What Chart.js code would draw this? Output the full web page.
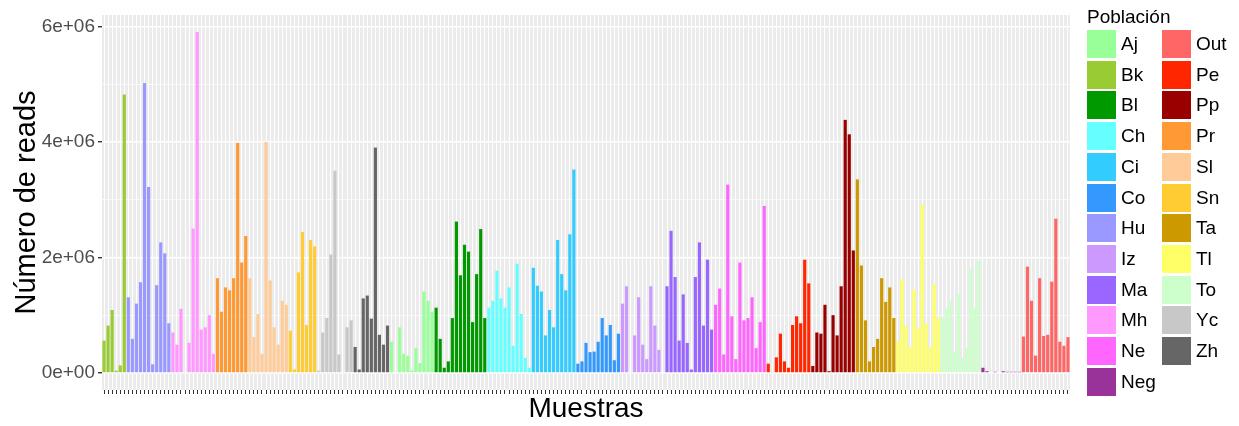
<!DOCTYPE html>
<html>
<head>
<meta charset="utf-8">
<script src="https://cdn.jsdelivr.net/npm/chart.js@4.4.1/dist/chart.umd.min.js"></script>
<style>
    html, body { margin: 0; padding: 0; background: #fff; }
    #wrap { position: relative; width: 1239px; height: 426px; font-family: "Liberation Sans", Arial, sans-serif; }
    #chart { position: absolute; left: 0; top: 0; }
    .legend-title { position: absolute; left: 1087px; top: 6px; font-size: 19px; color: #000; }
    .key { position: absolute; width: 29px; height: 28px; }
    .lab { position: absolute; font-size: 19px; line-height: 28px; color: #000; }
</style>
</head>
<body>
<div id="wrap">
    <canvas id="chart" width="1239" height="426"></canvas>
    <div id="legend"></div>
</div>
<script>
// reads per sample, in millions, grouped by population (order as on the x axis)
const Bk = [0.56, 0.82, 1.09, 0.04, 0.13, 4.82];
const Hu = [1.31, 0.59, 1.20, 1.57, 5.02, 3.22, 0.15, 1.52, 2.26, 2.07, 0.86];
const Mh = [0.70, 0.49, 1.11, 0.01, 0.52, 2.50, 5.90, 0.75, 0.79, 1.00, 0.33];
const Pr = [1.64, 1.06, 1.48, 1.43, 1.64, 3.98, 1.91, 2.37];
const Sl = [1.64, 0.62, 1.02, 0.33, 4.00, 1.60, 0.79, 0.49, 1.25, 1.18];
const Sn = [0.73, 0.06, 1.74, 2.44, 0.83, 2.30, 2.19];
const Yc = [0.04, 0.70, 0.95, 2.05, 3.50, 0.32, 0.01, 0.79, 0.91];
const Zh = [0.45, 0.06, 1.29, 1.34, 0.94, 3.90, 0.66, 0.49, 0.82];
const Aj = [0.54, 0.01, 0.79, 0.33, 0.30, 0.04, 0.43, 0.17, 1.41, 1.25, 1.06];
const Bl = [1.13, 0.59, 0.09, 0.20, 0.95, 2.62, 1.69, 2.22, 2.10, 0.88, 1.71, 2.49, 0.95];
const Ch = [1.13, 1.25, 1.77, 1.29, 1.13, 1.48, 0.47, 1.89, 1.02, 0.26, 0.09];
const Ci = [1.82, 1.51, 1.41, 0.65, 1.09, 0.79, 2.30, 1.71, 1.43, 2.40, 3.52];
const Co = [0.16, 0.20, 0.52, 0.36, 0.37, 0.54, 0.95, 0.65, 0.83, 0.22, 0.68];
const Iz = [1.20, 1.50, 0.01, 0.65, 1.31, 0.49, 0.24, 1.50, 0.82, 0.40];
const Ma = [0, 1.50, 2.46, 1.66, 0.56, 1.36, 0.52, 0.06, 1.66, 2.26, 0.82, 1.96, 0.75];
const Ne = [1.18, 1.46, 0.32, 3.26, 0.98, 0.24, 1.91, 0.91, 0.95, 1.31, 0.43, 0.88, 2.89];
const Pe = [0.16, 0.01, 0.27, 0.68, 0.20, 0.09, 0.83, 0.98, 0.86, 1.96, 1.55];
const Pp = [0.12, 0.70, 0.68, 1.18, 0.03, 1.00, 0.65, 1.50, 4.38, 4.13, 2.12];
const Ta = [3.35, 1.86, 0.91, 0.20, 0.45, 0.59, 1.64, 1.23, 1.48, 0.95];
const Tl = [0.55, 1.62, 0.81, 0.45, 1.44, 0.78, 2.91, 0.85, 0.45, 1.54, 0.95];
const To = [0.96, 1.12, 1.25, 0.37, 1.36, 0.26, 0.43, 1.80, 1.13, 1.94];
const Neg = [0.09, 0.03, 0, 0.02, 0, 0.03, 0.02, 0.02, 0.02, 0.02];
const Out = [0.63, 1.84, 1.25, 0.30, 1.64, 0.64, 0.66, 1.58, 2.67, 0.54, 0.47, 0.62];

const axisOrder = ['Bk', 'Hu', 'Mh', 'Pr', 'Sl', 'Sn', 'Yc', 'Zh', 'Aj', 'Bl', 'Ch', 'Ci', 'Co',
    'Iz', 'Ma', 'Ne', 'Pe', 'Pp', 'Ta', 'Tl', 'To', 'Neg', 'Out'];
const legendCol1 = ['Aj', 'Bk', 'Bl', 'Ch', 'Ci', 'Co', 'Hu', 'Iz', 'Ma', 'Mh', 'Ne', 'Neg'];
const legendCol2 = ['Out', 'Pe', 'Pp', 'Pr', 'Sl', 'Sn', 'Ta', 'Tl', 'To', 'Yc', 'Zh'];
const yTicks = [0, 1e6, 2e6, 3e6, 4e6, 5e6, 6e6];

const popValues = { Bk, Hu, Mh, Pr, Sl, Sn, Yc, Zh, Aj, Bl, Ch, Ci, Co, Iz, Ma, Ne, Pe, Pp, Ta, Tl, To, Neg, Out };
const popColors = {
    Aj: '#99FF99', Bk: '#99CC33', Bl: '#009900', Ch: '#66FFFF', Ci: '#33CCFF', Co: '#3399FF',
    Hu: '#9999FF', Iz: '#CC99FF', Ma: '#9966FF', Mh: '#FF99FF', Ne: '#FF66FF', Neg: '#993399',
    Out: '#FF6666', Pe: '#FF2600', Pp: '#990000', Pr: '#FF9933', Sl: '#FFCC99', Sn: '#FFCC33',
    Ta: '#CC9900', Tl: '#FFFF66', To: '#CCFFCC', Yc: '#C8C8C8', Zh: '#666666'
};

const labels = [];
const values = [];
const colors = [];
axisOrder.forEach(pop => {
    popValues[pop].forEach((v, i) => {
        labels.push(pop + (i + 1));
        values.push(v * 1e6);
        colors.push(popColors[pop]);
    });
});

const FONT = '"Liberation Sans", Arial, sans-serif';

const sciLabel = v => {
    if (v === 0) return '0e+00';
    return (v / 1e6) + 'e+06';
};

const panelBg = {
    id: 'panelBg',
    beforeDraw(chart) {
        const { ctx, chartArea: a } = chart;
        ctx.save();
        ctx.fillStyle = '#EBEBEB';
        ctx.fillRect(a.left, a.top, a.width, a.height);
        ctx.restore();
    }
};

new Chart(document.getElementById('chart'), {
    type: 'bar',
    data: {
        labels,
        datasets: [{
            data: values,
            backgroundColor: colors,
            borderWidth: 0,
            barPercentage: 0.78,
            categoryPercentage: 1
        }]
    },
    options: {
        responsive: false,
        animation: false,
        layout: { padding: { top: 15, right: 169, left: 0, bottom: 0 } },
        plugins: { legend: { display: false }, tooltip: { enabled: false } },
        scales: {
            x: {
                grid: { offset: false, color: '#FFFFFF', lineWidth: 1, tickColor: '#333333', tickLength: 4 },
                border: { display: false },
                ticks: { display: false, autoSkip: false },
                title: { display: true, text: 'Muestras', color: '#000', padding: 0, font: { family: FONT, size: 28 } },
                afterFit: s => { s.height = 36; }
            },
            y: {
                min: -295000,
                max: 6195000,
                afterBuildTicks: s => { s.ticks = yTicks.map(v => ({ value: v })); },
                ticks: {
                    autoSkip: false,
                    padding: 3,
                    color: '#4D4D4D',
                    font: { family: FONT, size: 19 },
                    callback: (v, i) => (i % 2 ? '' : sciLabel(v))
                },
                grid: {
                    color: '#FFFFFF',
                    lineWidth: c => (c.index % 2 ? 0.7 : 1.4),
                    tickColor: c => (c.index % 2 ? 'rgba(0,0,0,0)' : '#333333'),
                    tickLength: 4
                },
                border: { display: false },
                title: { display: true, text: 'Número de reads', color: '#000', padding: { top: 10, bottom: 0 }, font: { family: FONT, size: 29 } },
                afterFit: s => { s.width = 102; }
            }
        }
    },
    plugins: [panelBg]
});

// legend, two columns like ggplot
const legend = document.getElementById('legend');
legend.innerHTML = '<div class="legend-title">Población</div>';
const addColumn = (pops, keyX) => {
    pops.forEach((pop, i) => {
        const top = 30 + i * 30.7;
        legend.insertAdjacentHTML('beforeend',
            `<div class="key" style="left:${keyX}px;top:${top}px;background:${popColors[pop]}"></div>` +
            `<div class="lab" style="left:${keyX + 34}px;top:${top}px">${pop}</div>`);
    });
};
addColumn(legendCol1, 1087);
addColumn(legendCol2, 1162);
</script>
</body>
</html>
